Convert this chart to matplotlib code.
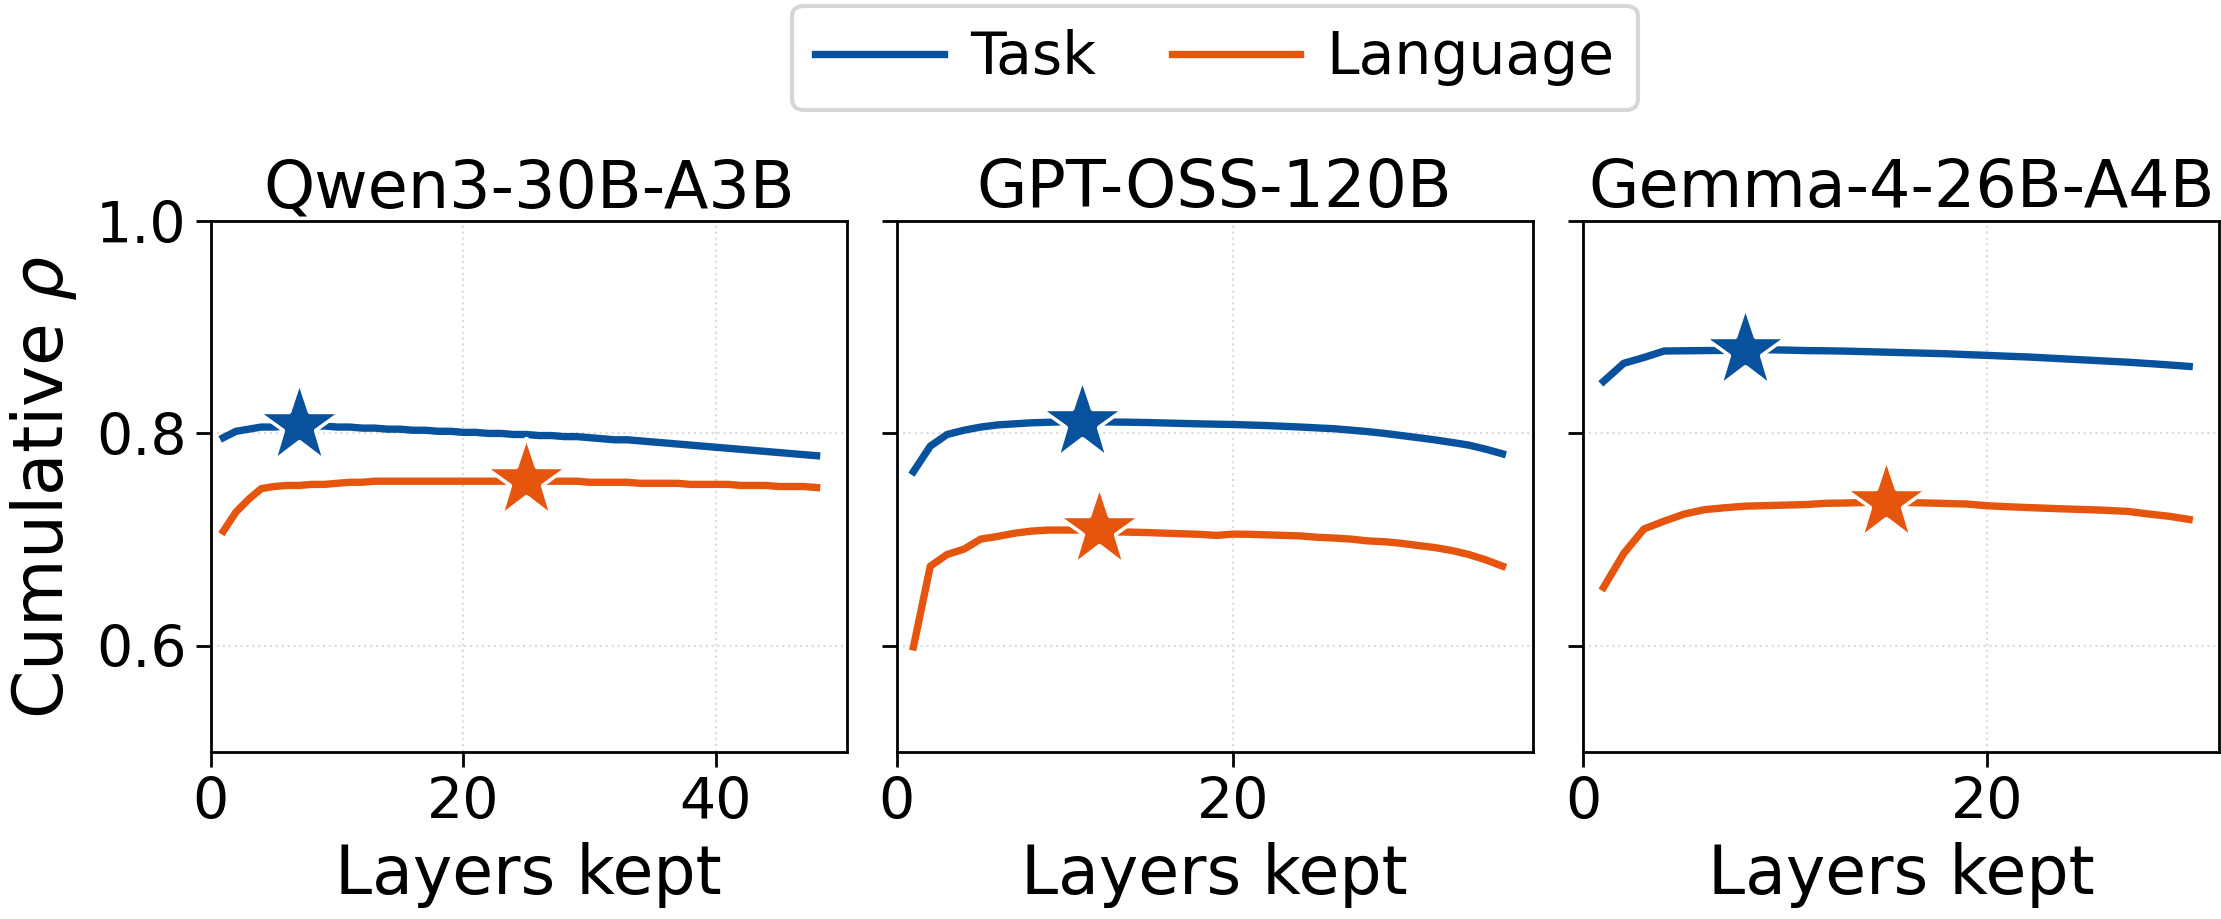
import matplotlib
matplotlib.use("Agg")
import matplotlib.pyplot as plt

# models shown in the three panels
models = ["Qwen3-30B-A3B", "GPT-OSS-120B", "Gemma-4-26B-A4B"]

# cumulative rho vs number of layers kept (layer 1..N)
qwen_task = [0.796, 0.802, 0.804, 0.806, 0.806, 0.807, 0.808, 0.807, 0.807, 0.806,
             0.806, 0.805, 0.805, 0.804, 0.804, 0.803, 0.803, 0.802, 0.802, 0.801,
             0.801, 0.800, 0.800, 0.799, 0.799, 0.798, 0.798, 0.797, 0.797, 0.796,
             0.795, 0.794, 0.794, 0.793, 0.792, 0.791, 0.790, 0.789, 0.788, 0.787,
             0.786, 0.785, 0.784, 0.783, 0.782, 0.781, 0.780, 0.779]
qwen_lang = [0.708, 0.726, 0.738, 0.748, 0.750, 0.751, 0.751, 0.752, 0.752, 0.753,
             0.754, 0.754, 0.755, 0.755, 0.755, 0.755, 0.755, 0.755, 0.755, 0.755,
             0.755, 0.755, 0.755, 0.755, 0.756, 0.755, 0.755, 0.755, 0.755, 0.754,
             0.754, 0.754, 0.754, 0.753, 0.753, 0.753, 0.753, 0.752, 0.752, 0.752,
             0.752, 0.751, 0.751, 0.751, 0.750, 0.750, 0.750, 0.749]

gpt_task = [0.764, 0.788, 0.799, 0.803, 0.806, 0.808, 0.809, 0.810, 0.8105, 0.811,
            0.8112, 0.811, 0.8107, 0.8105, 0.8102, 0.8098, 0.8094, 0.809, 0.8087, 0.8084,
            0.8079, 0.8074, 0.8067, 0.806, 0.8052, 0.8044, 0.8031, 0.8017, 0.8, 0.798,
            0.796, 0.7939, 0.7915, 0.789, 0.7852, 0.7808]
gpt_lang = [0.599, 0.675, 0.686, 0.691, 0.7005, 0.703, 0.706, 0.708, 0.709, 0.709,
            0.709, 0.710, 0.7073, 0.707, 0.7066, 0.706, 0.7055, 0.705, 0.704, 0.7052,
            0.705, 0.7045, 0.704, 0.7035, 0.7022, 0.7015, 0.7005, 0.6988, 0.698, 0.6965,
            0.6944, 0.6925, 0.6897, 0.686, 0.681, 0.675]

gemma_task = [0.849, 0.866, 0.8715, 0.8776, 0.8778, 0.878, 0.8782, 0.879, 0.8788, 0.8785,
              0.878, 0.8778, 0.8775, 0.877, 0.8765, 0.876, 0.8755, 0.875, 0.8742, 0.8735,
              0.8727, 0.872, 0.871, 0.870, 0.869, 0.868, 0.867, 0.8658, 0.8645, 0.8631]
gemma_lang = [0.655, 0.687, 0.710, 0.7174, 0.7241, 0.7282, 0.730, 0.7315, 0.732, 0.7325,
              0.733, 0.7342, 0.7345, 0.735, 0.7355, 0.735, 0.7345, 0.734, 0.7335, 0.7319,
              0.731, 0.7302, 0.7295, 0.7288, 0.7282, 0.7275, 0.7265, 0.7241, 0.722, 0.719]

task_series = [qwen_task, gpt_task, gemma_task]
lang_series = [qwen_lang, gpt_lang, gemma_lang]

# layer count marked with a star
best_task = [7, 11, 8]
best_lang = [25, 12, 15]

blue = "#08519c"
orange = "#e6550d"

plt.rcParams['font.family'] = ['DejaVu Sans']

fig = plt.figure(figsize=(22.21, 9.19), dpi=100)
lefts = [0.0949, 0.4037, 0.7129]
axes = []
for i, left in enumerate(lefts):
    ax = fig.add_axes([left, 0.1817, 0.2864, 0.5778],
                      sharey=axes[0] if axes else None)
    axes.append(ax)

for i, ax in enumerate(axes):
    task = task_series[i]
    lang = lang_series[i]
    n = len(task)
    layers = list(range(1, n + 1))
    ax.plot(layers, task, color=blue, lw=5.3, label="Task", zorder=3)
    ax.plot(layers, lang, color=orange, lw=5.3, label="Language", zorder=3)
    bt, bl = best_task[i], best_lang[i]
    ax.plot([bt], [task[bt - 1]], marker="*", ms=62, color=blue,
            mec="white", mew=2.5, zorder=5, linestyle="None")
    ax.plot([bl], [lang[bl - 1]], marker="*", ms=62, color=orange,
            mec="white", mew=2.5, zorder=5, linestyle="None")

    ax.set_xlim(0, n * 1.05)
    ax.set_ylim(0.5, 1.0)
    ax.set_xticks(range(0, n + 1, 20))
    ax.set_yticks([0.6, 0.8, 1.0])
    ax.grid(True, linestyle=":", color="#dddddd", linewidth=1.6, zorder=0)
    ax.set_title(models[i], fontsize=47, pad=9)
    ax.set_xlabel("Layers kept", fontsize=48, labelpad=8)
    ax.tick_params(labelsize=41, length=10.5, width=2, pad=7)
    for s in ax.spines.values():
        s.set_linewidth(2)
    if i > 0:
        ax.tick_params(labelleft=False)

axes[0].set_ylabel(r"Cumulative $\rho$", fontsize=50, labelpad=12)

handles, labels = axes[0].get_legend_handles_labels()
leg = fig.legend(handles[:2], labels[:2], loc="upper center",
                 bbox_to_anchor=(0.547, 1.0), ncol=2, fontsize=42,
                 handlelength=2.2, columnspacing=1.3, borderpad=0.4,
                 handletextpad=0.45, borderaxespad=0.1)
leg.get_frame().set_linewidth(3)

fig.savefig("out.png", dpi=100)
